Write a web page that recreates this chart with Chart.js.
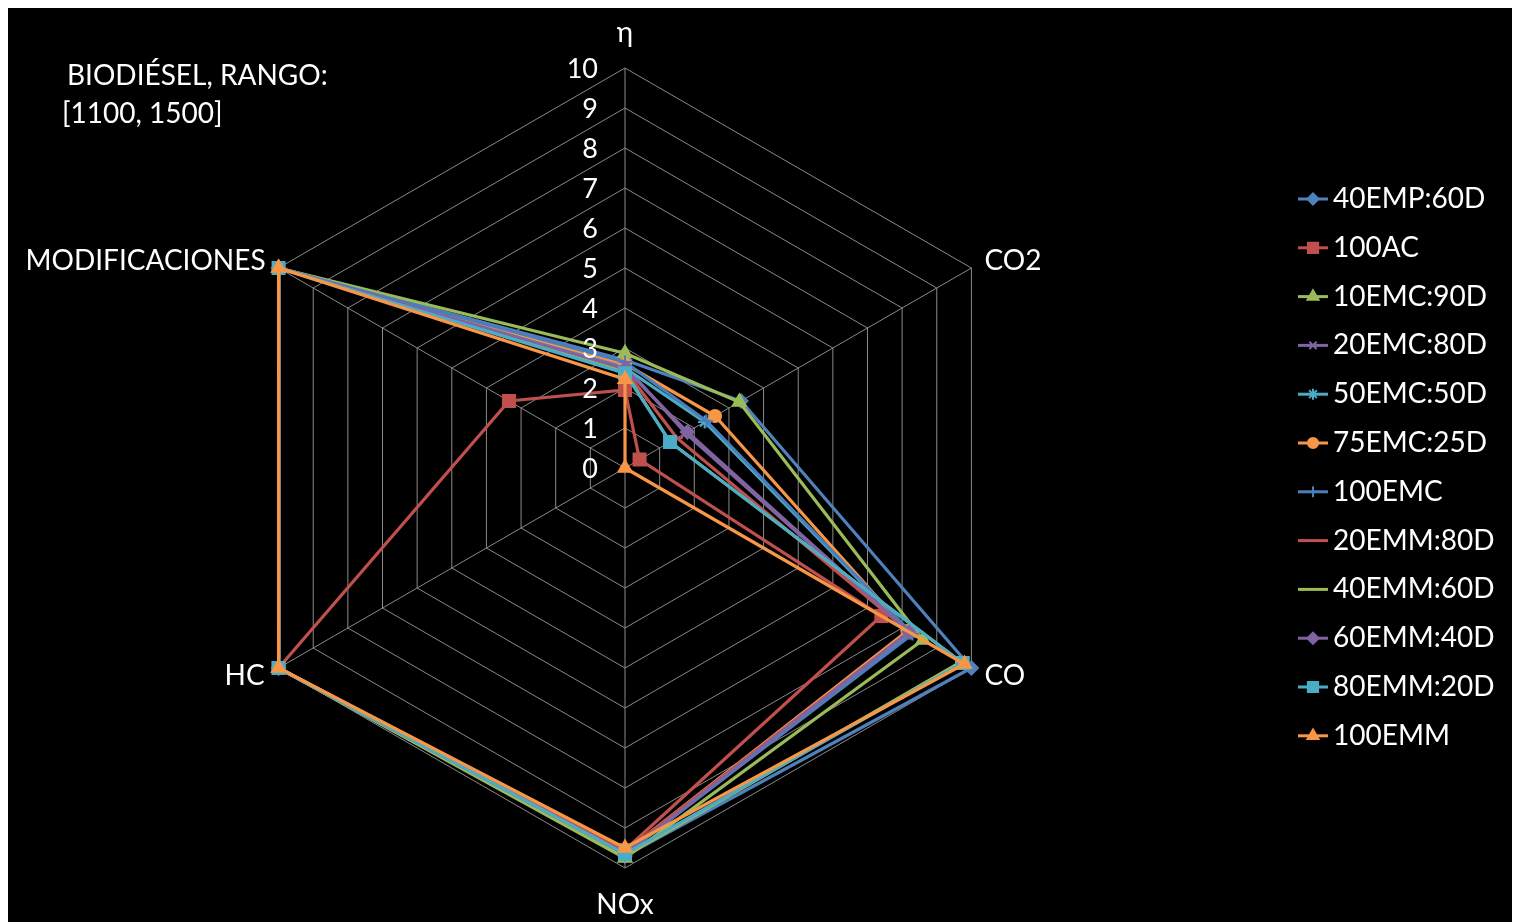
<!DOCTYPE html>
<html>
<head>
<meta charset="utf-8">
<script src="https://cdn.jsdelivr.net/npm/chart.js@4/dist/chart.umd.min.js"></script>
<style>
  html, body { margin: 0; padding: 0; background: #ffffff; }
  #frame { position: absolute; left: 8px; top: 8px; width: 1504px; height: 914px; background: #000000; }
  #frame canvas { display: block; }
</style>
</head>
<body>
<div id="frame"><canvas id="radar" width="1504" height="914"></canvas></div>
<script>
// Axes of the radar, clockwise from the top
const axes = ['η', 'CO2', 'CO', 'NOx', 'HC', 'MODIFICACIONES'];

// Radial tick labels (0 … 10)
const tickValues = [0, 1, 2, 3, 4, 5, 6, 7, 8, 9, 10];

// Title lines
const titleLines = ['BIODIÉSEL, RANGO:', '[1100, 1500]'];

// Series values, one per axis: η, CO2, CO, NOx, HC, MODIFICACIONES
const s40EMP_60D = [2.70, 3.35, 10.0, 9.70, 10, 10];
const s100AC     = [1.95, 0.42, 7.40, 9.55, 10, 3.35];
const s10EMC_90D = [2.87, 3.30, 8.60, 9.75, 10, 10];
const s20EMC_80D = [2.55, 1.75, 8.20, 9.65, 10, 10];
const s50EMC_50D = [2.50, 2.30, 8.25, 9.65, 10, 10];
const s75EMC_25D = [2.60, 2.60, 8.15, 9.60, 10, 10];
const s100EMC    = [2.65, 2.35, 8.30, 9.65, 10, 10];
const s20EMM_80D = [2.45, 1.50, 8.20, 9.60, 10, 10];
const s40EMM_60D = [2.40, 1.30, 9.70, 9.70, 10, 10];
const s60EMM_40D = [2.49, 1.80, 8.20, 9.65, 10, 10];
const s80EMM_20D = [2.37, 1.30, 9.75, 9.65, 10, 10];
const s100EMM    = [2.22, 0.00, 9.80, 9.50, 10, 10];

const seriesNames = ['40EMP:60D', '100AC', '10EMC:90D', '20EMC:80D', '50EMC:50D', '75EMC:25D',
                     '100EMC', '20EMM:80D', '40EMM:60D', '60EMM:40D', '80EMM:20D', '100EMM'];
const seriesData = [s40EMP_60D, s100AC, s10EMC_90D, s20EMC_80D, s50EMC_50D, s75EMC_25D,
                    s100EMC, s20EMM_80D, s40EMM_60D, s60EMM_40D, s80EMM_20D, s100EMM];

// Line / marker styling for each series
const seriesColors = ['#4F81BD', '#C0504D', '#9BBB59', '#8064A2', '#4BACC6', '#F79646',
                      '#4A7EBB', '#C0504D', '#9BBB59', '#8064A2', '#4BACC6', '#F79646'];
const seriesMarkers = ['rectRot', 'rect', 'triangle', 'crossRot', 'star', 'circle',
                       'cross', 'line', 'line', 'rectRot', 'rect', 'triangle'];
const markerRadius = { rectRot: 6.5, rect: 8.5, triangle: 7.5, crossRot: 6, star: 6.5, circle: 6, cross: 6.5, line: 6 };

const FONT = 'Lato, "Open Sans", "DejaVu Sans", sans-serif';
const TEXT_SIZE = 28;
const TICK_SIZE = 27;

const datasets = seriesNames.map((name, i) => ({
  label: name,
  data: seriesData[i],
  borderColor: seriesColors[i],
  backgroundColor: seriesColors[i],
  pointBackgroundColor: seriesColors[i],
  pointBorderColor: seriesColors[i],
  pointBorderWidth: 2,
  pointStyle: seriesMarkers[i],
  pointRadius: markerRadius[seriesMarkers[i]],
  borderWidth: 3.2,
  fill: false,
  tension: 0,
  order: seriesNames.length - i   // later series painted on top
}));

function drawMarker(ctx, style, x, y, r, color) {
  ctx.save();
  ctx.fillStyle = color;
  ctx.strokeStyle = color;
  ctx.lineWidth = 2;
  if (Chart.helpers && Chart.helpers.drawPoint) {
    Chart.helpers.drawPoint(ctx, { pointStyle: style, radius: r, borderWidth: 2, rotation: 0 }, x, y);
  } else {
    ctx.beginPath(); ctx.arc(x, y, r, 0, Math.PI * 2); ctx.fill();
  }
  ctx.restore();
}

// Tick labels, axis names, title and legend
const decorations = {
  id: 'decorations',
  afterDraw(chart) {
    const ctx = chart.ctx;
    const scale = chart.scales.r;
    ctx.save();
    ctx.fillStyle = '#ffffff';
    ctx.textBaseline = 'middle';

    // radial tick labels, left of the vertical axis
    ctx.font = TICK_SIZE + 'px ' + FONT;
    ctx.textAlign = 'right';
    tickValues.forEach(v => {
      const y = scale.yCenter - scale.getDistanceFromCenterForValue(v);
      ctx.fillText(String(v), scale.xCenter - 27, y + 1);
    });

    // axis names
    ctx.font = TEXT_SIZE + 'px ' + FONT;
    const R = scale.drawingArea;
    axes.forEach((name, i) => {
      const p = scale.getPointPosition(i, R);
      let x = p.x, y = p.y, align = 'center';
      if (i === 0) { y -= 35; }
      else if (i === 1) { x += 13; y -= 7; align = 'left'; }
      else if (i === 2) { x += 13; y += 8; align = 'left'; }
      else if (i === 3) { y += 37; }
      else if (i === 4) { x -= 14; y += 8; align = 'right'; }
      else { x -= 13; y -= 7; align = 'right'; }
      ctx.textAlign = align;
      ctx.fillText(name, x, y);
    });

    // title
    ctx.textAlign = 'left';
    ctx.fillText(titleLines[0], 59, 68);
    ctx.fillText(titleLines[1], 54, 106);

    // legend
    const lx0 = 1290, lx1 = 1320, tx = 1325, ly0 = 191, lstep = 48.8;
    seriesNames.forEach((name, i) => {
      const y = ly0 + i * lstep;
      ctx.strokeStyle = seriesColors[i];
      ctx.lineWidth = 3;
      ctx.beginPath(); ctx.moveTo(lx0, y); ctx.lineTo(lx1, y); ctx.stroke();
      if (seriesMarkers[i] !== 'line') {
        drawMarker(ctx, seriesMarkers[i], (lx0 + lx1) / 2, y, markerRadius[seriesMarkers[i]] * 0.85, seriesColors[i]);
      }
      ctx.fillStyle = '#ffffff';
      ctx.textAlign = 'left';
      ctx.fillText(name, tx, y);
    });
    ctx.restore();
  }
};

new Chart(document.getElementById('radar'), {
  type: 'radar',
  data: { labels: axes, datasets },
  options: {
    responsive: false,
    animation: false,
    layout: { padding: { left: 217, right: 487, top: 60, bottom: 54 } },
    plugins: { legend: { display: false }, tooltip: { enabled: false }, title: { display: false } },
    elements: { line: { borderJoinStyle: 'miter' } },
    scales: {
      r: {
        min: 0,
        max: 10,
        ticks: { display: false, stepSize: 1 },
        pointLabels: { display: false },
        grid: { color: '#8a8a8a', lineWidth: 1 },
        angleLines: { color: '#8a8a8a', lineWidth: 1 }
      }
    }
  },
  plugins: [decorations]
});
</script>
</body>
</html>
